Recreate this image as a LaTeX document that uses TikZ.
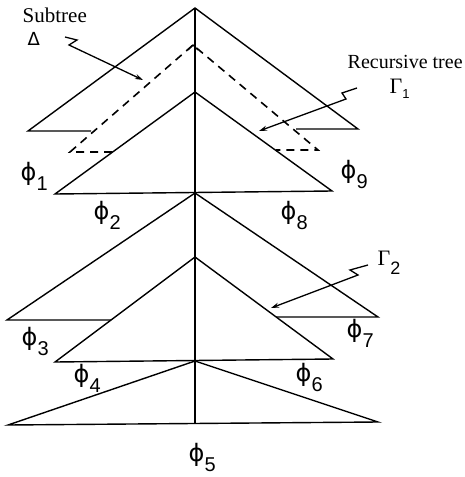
\documentclass[tikz,border=0pt]{standalone}
\usepackage{fontspec}
\setmainfont{Liberation Serif}
\newfontfamily\dv{DejaVu Sans}
\newfontfamily\ls{Liberation Sans}
\usetikzlibrary{arrows.meta,calc}
\newcommand\phil[1]{{\dv\fontsize{24}{24}\selectfont ϕ}{\ls\fontsize{20}{20}\selectfont\raisebox{-10pt}{#1}}}
\begin{document}
\begin{tikzpicture}[x=1pt,y=-1pt, line width=1.4pt, line join=miter,
  hid/.style={line width=1.6pt, dash pattern=on 8pt off 6pt},
  ptr/.style={line width=1.3pt, -{Stealth[length=8pt,width=5pt]}},
  lab/.style={inner sep=0pt, anchor=base west}]
\useasboundingbox (0,0) rectangle (465,477);
% triangle 1 (outer top)
\coordinate (A1) at (195,8);
\coordinate (L1) at (28,131);
\coordinate (R1) at (358,129);
\coordinate (L1e) at (91,131);
\coordinate (R1e) at (296,129);
% triangle 2
\coordinate (A2) at (195,92);
\coordinate (L2) at (55,194);
\coordinate (R2) at (332,191);
% triangle 3
\coordinate (A3) at (195,193);
\coordinate (L3) at (7,320);
\coordinate (R3) at (378,317);
\coordinate (L3e) at (111,320);
\coordinate (R3e) at (276,317);
% triangle 4
\coordinate (A4) at (195,257);
\coordinate (L4) at (55,362);
\coordinate (R4) at (333,359);
% triangle 5
\coordinate (A5) at (195,361);
\coordinate (L5) at (8,425);
\coordinate (R5) at (378,422);
\coordinate (B) at (195,424);
% dashed subtree
\coordinate (D) at (193,45);
\coordinate (DL) at (70,152);
\coordinate (DLe) at (112,152);
\coordinate (DR) at (318,150);
\coordinate (DRe) at (276,150);

\draw (L1e) -- (L1) -- (A1) -- (R1) -- (R1e);
\draw (L2) -- (A2) -- (R2) -- cycle;
\draw (L3e) -- (L3) -- (A3) -- (R3) -- (R3e);
\draw (L4) -- (A4) -- (R4) -- cycle;
\draw (L5) -- (A5) -- (R5) -- cycle;
\draw (A1) -- (B);
\draw[hid] (DLe) -- (DL) -- (D) -- (DR) -- (DRe);
\draw ($(D)+(-5,5)$) -- (D) -- ($(D)+(5,5)$);

% pointers
\coordinate (s0) at (65,37); \coordinate (s1) at (77,40); \coordinate (s2) at (69,45); \coordinate (s3) at (143,80);
\draw[ptr] (s0) -- (s1) -- (s2) -- (s3);
\coordinate (g0) at (357,88); \coordinate (g1) at (342,93); \coordinate (g2) at (346,99); \coordinate (g3) at (259,131);
\draw[ptr] (g0) -- (g1) -- (g2) -- (g3);
\coordinate (h0) at (368,265); \coordinate (h1) at (350,270); \coordinate (h2) at (358,275); \coordinate (h3) at (271,308);
\draw[ptr] (h0) -- (h1) -- (h2) -- (h3);

% labels
\node[lab] (sub) at (22,22) {\fontsize{21}{21}\selectfont Subtree};
\node[lab] (del) at (27,45) {\dv\fontsize{18}{18}\selectfont Δ};
\node[lab] (rec) at (347,68) {\fontsize{20}{20}\selectfont Recursive tree};
\node[lab] (g1l) at (389,93) {\fontsize{22}{22}\selectfont Γ\raisebox{-5pt}{\ls\fontsize{13}{13}\selectfont 1}};
\node[lab] (g2l) at (377,265) {\fontsize{22}{22}\selectfont Γ\raisebox{-9pt}{\ls\fontsize{18}{18}\selectfont 2}};
\node[lab] (p1) at (20,180) {\phil{1}};
\node[lab] (p9) at (340,178) {\phil{9}};
\node[lab] (p2) at (93,219) {\phil{2}};
\node[lab] (p8) at (280,219) {\phil{8}};
\node[lab] (p3) at (21,345) {\phil{3}};
\node[lab] (p7) at (346,337) {\phil{7}};
\node[lab] (p4) at (73,382) {\phil{4}};
\node[lab] (p6) at (295,381) {\phil{6}};
\node[lab] (p5) at (188,461) {\phil{5}};
\end{tikzpicture}
\end{document}
